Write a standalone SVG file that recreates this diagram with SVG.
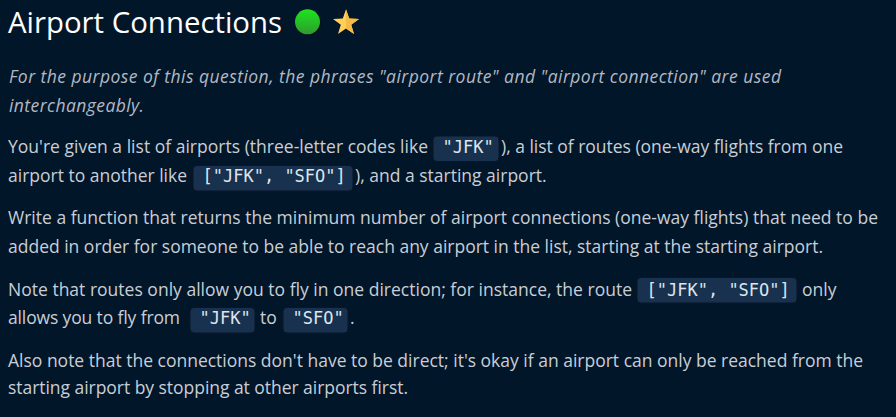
<svg xmlns="http://www.w3.org/2000/svg" width="896" height="417" viewBox="0 0 896 417">
<defs>
<style>
.t{font-family:"Open Sans","Noto Sans","Liberation Sans",sans-serif;font-size:17.5px;fill:#c9ced6}
.i{font-style:italic;fill:#b3b9c3}
.h{font-family:"Open Sans","Noto Sans","Liberation Sans",sans-serif;font-size:29px;fill:#ffffff}
.c{font-family:"DejaVu Sans Mono","Liberation Mono",monospace;font-size:17px;fill:#dfe5ec}
.cb{fill:#17314f;stroke:#0a1626;stroke-width:1}
</style>
<linearGradient id="g" x1="0" y1="0" x2="0" y2="1">
<stop offset="0" stop-color="#1ee41e"/>
<stop offset="1" stop-color="#2f9a2f"/>
</linearGradient>
</defs>
<rect width="896" height="417" fill="#021629"/>
<g id="title">
<text class="h" x="8" y="33" textLength="274" lengthAdjust="spacingAndGlyphs">Airport Connections</text>
<circle cx="308.5" cy="23" r="12.5" fill="#000" opacity="0.35"/>
<circle cx="307.5" cy="21.8" r="12.5" fill="url(#g)"/>
<polygon points="346,9.3 349.2,18.6 359,18.9 351.2,24.8 354,34 346,28.5 338,34 340.8,24.8 333,18.9 342.8,18.6" fill="#ffcf5a"/>
<polygon points="346,9.3 349.2,18.6 359,18.9 351.2,24.8 354,34 346,28.5" fill="#f6bb45"/>
</g>
<g id="p1">
<text class="t i" x="9" y="82.7" textLength="772">For the purpose of this question, the phrases "airport route" and "airport connection" are used</text>
<text class="t i" x="9" y="111.5" textLength="135">interchangeably.</text>
</g>
<g id="p2">
<text class="t" x="8" y="153.3" textLength="420">You're given a list of airports (three-letter codes like</text>
<rect class="cb" x="433" y="136" width="66" height="25.5" rx="4"/>
<text class="c" x="442.5" y="153.3">"JFK"</text>
<text class="t" x="501" y="153.3" textLength="342">), a list of routes (one-way flights from one</text>
<text class="t" x="8" y="181.7" textLength="179">airport to another like</text>
<rect class="cb" x="193" y="165.5" width="160" height="25.5" rx="4"/>
<text class="c" x="202.5" y="181.7">["JFK", "SFO"]</text>
<text class="t" x="355" y="181.7">), and a starting airport.</text>
</g>
<g id="p3">
<text class="t" x="8" y="224" textLength="870">Write a function that returns the minimum number of airport connections (one-way flights) that need to be</text>
<text class="t" x="8" y="253.3" textLength="815">added in order for someone to be able to reach any airport in the list, starting at the starting airport.</text>
</g>
<g id="p4">
<text class="t" x="8" y="295.7" textLength="624">Note that routes only allow you to fly in one direction; for instance, the route</text>
<rect class="cb" x="637" y="277.5" width="160" height="25.5" rx="4"/>
<text class="c" x="646.5" y="295.7">["JFK", "SFO"]</text>
<text class="t" x="802" y="295.7">only</text>
<text class="t" x="8" y="324" textLength="172">allows you to fly from</text>
<rect class="cb" x="190" y="307.5" width="65" height="25.5" rx="4"/>
<text class="c" x="199.5" y="324">"JFK"</text>
<text class="t" x="260" y="324">to</text>
<rect class="cb" x="283" y="307.5" width="65" height="25.5" rx="4"/>
<text class="c" x="292.5" y="324">"SFO"</text>
<text class="t" x="350" y="324">.</text>
</g>
<g id="p5">
<text class="t" x="8" y="366.7" textLength="855">Also note that the connections don't have to be direct; it's okay if an airport can only be reached from the</text>
<text class="t" x="8" y="394" textLength="400">starting airport by stopping at other airports first.</text>
</g>
</svg>
